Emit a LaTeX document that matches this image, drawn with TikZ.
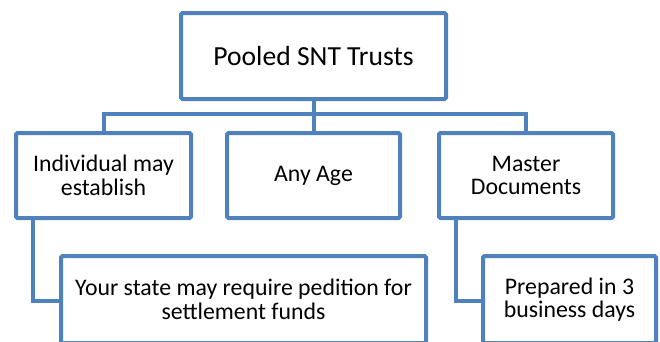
\documentclass[tikz,border=0pt]{standalone}
\usepackage{fontspec}
\setmainfont{Carlito}
\definecolor{boxblue}{RGB}{79,129,189}
\begin{document}
\begin{tikzpicture}[x=1pt,y=-1pt,
  box/.style={draw=boxblue, line width=4pt, rounded corners=1.5pt, fill=white,
    inner sep=0pt, align=center, font=\fontsize{23.8}{23.5}\selectfont},
  conn/.style={draw=boxblue, line width=4pt}]
\useasboundingbox (0,0) rectangle (660,341);
\begin{scope}
\clip (0,0) rectangle (660,341);
\node[box, minimum width=265pt, minimum height=86pt, font=\fontsize{27.6}{28}\selectfont] (top) at (313.5,56) {Pooled SNT Trusts};
\node[box, minimum width=175pt, minimum height=85pt] (b1) at (103.5,175.5) {Individual may\\establish};
\node[box, minimum width=173pt, minimum height=85pt] (b2) at (313.5,175.5) {Any Age};
\node[box, minimum width=174pt, minimum height=85pt] (b3) at (526,175.5) {Master\\Documents};
\node[box, minimum width=365pt, minimum height=87pt] (b4) at (243.5,299.5) {Your state may require pedition for\\settlement funds};
\node[box, minimum width=173pt, minimum height=87pt] (b5) at (569.5,299.5) {Prepared in 3\\business days};
\coordinate (bus) at (0,114);
\draw[conn] (top.south) -- (b2.north);
\draw[conn] (b1.north) -- (b1.north |- bus) -- (b3.north |- bus) -- (b3.north);
\draw[conn] ([xshift=19pt]b1.south west) |- ([yshift=-1pt]b4.west);
\draw[conn] ([xshift=19pt]b3.south west) |- ([yshift=-1pt]b5.west);
\end{scope}
\end{tikzpicture}
\end{document}
